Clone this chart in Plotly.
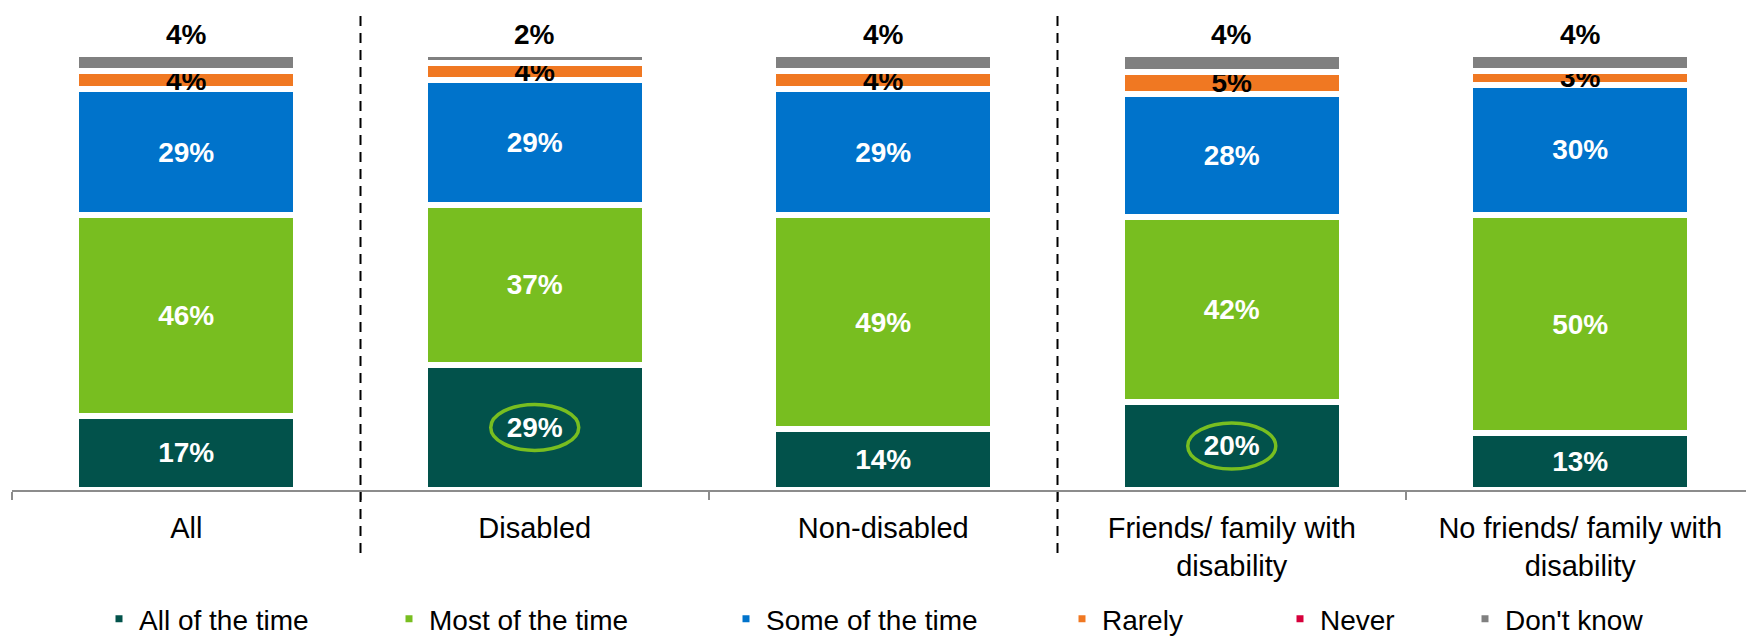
import plotly.graph_objects as go

categories = ["All", "Disabled", "Non-disabled",
              "Friends/ family with<br>disability", "No friends/ family with<br>disability"]
series_names = ["All of the time", "Most of the time", "Some of the time",
                "Rarely", "Never", "Don't know"]
all_of_the_time = [17, 29, 14, 20, 13]
most_of_the_time = [46, 37, 49, 42, 50]
some_of_the_time = [29, 29, 29, 28, 30]
rarely = [4, 4, 4, 5, 3]
never = [0, 0, 0, 0, 0]
dont_know = [4, 2, 4, 4, 4]
highlighted = ["Disabled", "Friends/ family with<br>disability"]
dividers_after = ["All", "Non-disabled"]

series_values = [all_of_the_time, most_of_the_time, some_of_the_time, rarely, never, dont_know]
colors = ["#02524B", "#78BE20", "#0073CB", "#F07822", "#D6003B", "#808080"]
text_colors = ["white", "white", "white", "black", "black", "black"]
show_text = [True, True, True, True, False, False]

FONT = "Liberation Sans, Arial, sans-serif"
W, H = 1746, 637
L, R, T, B = 12, 0, 54, 147
cat_px = 348.5
plot_w = W - L - R
plot_h = H - T - B

legend_text_x = [139, 429, 766, 1102, 1320, 1505]

fig = go.Figure()
for i, (name, vals) in enumerate(zip(series_names, series_values)):
    lg = "legend" if i == 0 else f"legend{i+1}"
    tf = dict(family=FONT, size=28, color=text_colors[i], weight="bold")
    fig.add_trace(go.Bar(
        x=categories, y=vals, name=name,
        marker=dict(color=colors[i], line=dict(color="white", width=6)),
        width=0.63,
        text=[f"{v}%" for v in vals] if show_text[i] else None,
        textposition="inside",
        insidetextanchor="middle",
        textangle=0,
        constraintext="none",
        cliponaxis=False,
        textfont=tf, insidetextfont=tf,
        legend=lg,
        hoverinfo="skip",
    ))

annotations = []
for c, v in zip(categories, dont_know):
    annotations.append(dict(
        x=c, y=100, xref="x", yref="y", text=f"{v}%", showarrow=False,
        yanchor="bottom", yshift=2,
        font=dict(family=FONT, size=28, color="black", weight="bold"),
    ))

layout_legends = {}
for i, tx in enumerate(legend_text_x):
    key = "legend" if i == 0 else f"legend{i+1}"
    layout_legends[key] = dict(
        x=(tx - 40 - L) / plot_w, y=(H - B - 619) / plot_h,
        xanchor="left", yanchor="middle", orientation="h",
        font=dict(family=FONT, size=28, color="black"),
        bgcolor="rgba(0,0,0,0)", borderwidth=0,
    )

shapes = []
for c in dividers_after:
    xi = categories.index(c) + 0.5
    shapes.append(dict(type="line", xref="x", yref="paper", x0=xi, x1=xi,
                       y0=(H - B - 553) / plot_h, y1=(H - B - 11) / plot_h,
                       line=dict(color="black", width=2, dash="10px,7px")))
for c in highlighted:
    idx = categories.index(c)
    total = sum(v[idx] for v in series_values)
    yc = all_of_the_time[idx] / total * 100 / 2
    shapes.append(dict(type="circle", xref="x", yref="y",
                       xsizemode="pixel", ysizemode="pixel",
                       xanchor=idx, yanchor=yc,
                       x0=-44, x1=44, y0=-23, y1=23,
                       line=dict(color="#78BE20", width=3.5)))

fig.update_layout(
    width=W, height=H,
    margin=dict(l=L, r=R, t=T, b=B, pad=0, autoexpand=False),
    barmode="stack", barnorm="percent",
    plot_bgcolor="white", paper_bgcolor="white",
    showlegend=True,
    shapes=shapes,
    annotations=annotations,
    xaxis=dict(
        type="category",
        range=[-0.5, -0.5 + plot_w / cat_px],
        showline=True, linecolor="#8c8c8c", linewidth=2,
        ticks="outside", tickson="boundaries", ticklen=8, tickcolor="#8c8c8c", tickwidth=2,
        ticklabelstandoff=11,
        tickfont=dict(family=FONT, size=29, color="black"),
        showgrid=False, zeroline=False, fixedrange=True, automargin=False,
    ),
    yaxis=dict(range=[0, 100], visible=False, showgrid=False, zeroline=False,
               fixedrange=True, automargin=False),
    **layout_legends,
)

fig.write_html("out.html",
               config={"displayModeBar": False},
               post_script="document.body.style.margin='0px';document.body.style.overflow='hidden';")
